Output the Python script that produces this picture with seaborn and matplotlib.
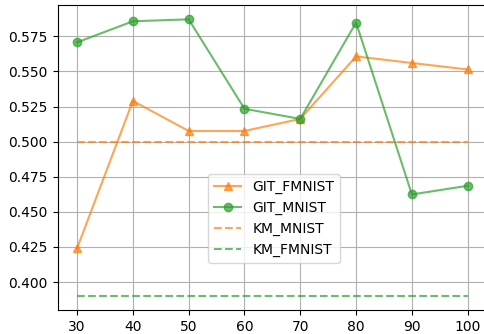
import matplotlib
matplotlib.use("Agg")
import matplotlib.pyplot as plt
import seaborn as sns
import pandas as pd

# Number of clusters / samples on the x axis
x_vals = [30, 40, 50, 60, 70, 80, 90, 100]

# Accuracy of each method
git_fmnist = [0.424, 0.529, 0.5076, 0.5076, 0.5162, 0.5607, 0.556, 0.5514]
git_mnist = [0.5707, 0.5857, 0.5871, 0.5234, 0.5162, 0.5848, 0.4624, 0.4686]
km_mnist = [0.500] * len(x_vals)
km_fmnist = [0.390] * len(x_vals)

ORANGE = "tab:orange"
GREEN = "tab:green"

fig = plt.figure(figsize=(4.85, 3.34), dpi=100)
ax = fig.add_axes([0.1186, 0.0719, 0.886, 0.9117])

df = pd.DataFrame({"x": x_vals, "git_fmnist": git_fmnist, "git_mnist": git_mnist,
                   "km_mnist": km_mnist, "km_fmnist": km_fmnist})

sns.lineplot(data=df, x="x", y="git_fmnist", marker="^", color=ORANGE, alpha=0.7,
             markeredgecolor=ORANGE, markeredgewidth=1, markersize=6,
             linewidth=1.5, label="GIT_FMNIST", ax=ax)
sns.lineplot(data=df, x="x", y="git_mnist", marker="o", color=GREEN, alpha=0.7,
             markeredgecolor=GREEN, markeredgewidth=1, markersize=6,
             linewidth=1.5, label="GIT_MNIST", ax=ax)
sns.lineplot(data=df, x="x", y="km_mnist", color=ORANGE, alpha=0.7, linestyle="--",
             linewidth=1.5, label="KM_MNIST", ax=ax)
sns.lineplot(data=df, x="x", y="km_fmnist", color=GREEN, alpha=0.7, linestyle="--",
             linewidth=1.5, label="KM_FMNIST", ax=ax)

ax.set_xlabel("")
ax.set_ylabel("")
ax.set_xticks(x_vals)
ax.set_yticks([0.400, 0.425, 0.450, 0.475, 0.500, 0.525, 0.550, 0.575])
ax.set_yticklabels([f"{v:.3f}" for v in ax.get_yticks()])
ax.grid(True, color="#b0b0b0", linewidth=0.8)
ax.set_axisbelow(True)
ax.tick_params(labelsize=10)
ax.legend(loc="center", bbox_to_anchor=(0.504, 0.30), fontsize=10)

fig.savefig("out.png", dpi=100)
